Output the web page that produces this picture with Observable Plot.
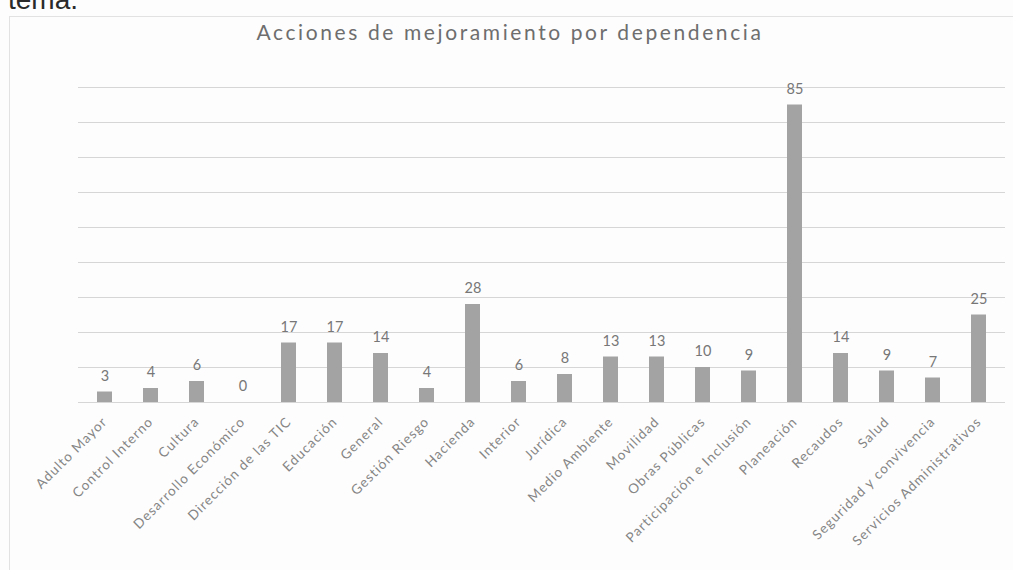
<!DOCTYPE html>
<html>
<head>
<meta charset="utf-8">
<script src="https://cdn.jsdelivr.net/npm/d3@7"></script>
<script src="https://cdn.jsdelivr.net/npm/@observablehq/plot@0.6"></script>
<style>
  html, body { margin: 0; padding: 0; background: #fff; }
  #wrap { position: relative; width: 1013px; height: 570px; overflow: hidden; background: #fdfdfd; }
  #tema { position: absolute; left: 8px; top: -16px; font: 28px "Liberation Sans", Arial, sans-serif; color: #2a2a2a; }
  #frame { position: absolute; left: 9px; top: 16px; width: 1010px; height: 560px; border: 1px solid #e2e2e2; box-sizing: border-box; }
  #title { position: absolute; left: 0; width: 1020px; top: 19px; text-align: center; font: 21px Lato, "Open Sans", sans-serif; letter-spacing: 2.6px; color: #6e6e6e; }
  #chart { position: absolute; left: 0; top: 0; }
  g[aria-label="x-axis tick label"] text { letter-spacing: 1.1px; }
</style>
</head>
<body>
<div id="wrap">
  <div id="tema">tema.</div>
  <div id="frame"></div>
  <div id="title">Acciones de mejoramiento por dependencia</div>
  <div id="chart"></div>
</div>
<script>
const categories = [
  "Adulto Mayor", "Control Interno", "Cultura", "Desarrollo Económico",
  "Dirección de las TIC", "Educación", "General", "Gestión Riesgo",
  "Hacienda", "Interior", "Jurídica", "Medio Ambiente", "Movilidad",
  "Obras Públicas", "Participación e Inclusión", "Planeación", "Recaudos",
  "Salud", "Seguridad y convivencia", "Servicios Administrativos"
];
const values = [3, 4, 6, 0, 17, 17, 14, 4, 28, 6, 8, 13, 13, 10, 9, 85, 14, 9, 7, 25];
const gridTicks = [0, 10, 20, 30, 40, 50, 60, 70, 80, 90];

const data = categories.map((c, i) => ({ cat: c, val: values[i] }));

const chart = Plot.plot({
  width: 1013,
  height: 570,
  marginLeft: 78,
  marginRight: 8,
  marginTop: 87,
  marginBottom: 168,
  style: { background: "transparent", fontFamily: "Lato, 'Open Sans', sans-serif" },
  x: { domain: categories, paddingInner: 0.68, paddingOuter: 0.38, label: null },
  y: { domain: [0, 90], axis: null },
  marks: [
    Plot.ruleY(gridTicks, { stroke: "#d6d6d6", strokeWidth: 1 }),
    Plot.barY(data, { x: "cat", y: "val", fill: "#a3a3a3" }),
    Plot.text(data, { x: "cat", y: "val", text: d => String(d.val), dy: -16, fill: "#777777", fontSize: 14.5, ariaLabel: "vals" }),
    Plot.axisX({ tickRotate: -45, tickSize: 0, tickPadding: 17, fontSize: 13.5, fill: "#858585", label: null })
  ]
});
document.getElementById("chart").appendChild(chart);
d3.select(chart).selectAll('g[aria-label="vals"] text').style("letter-spacing", "1px");
</script>
</body>
</html>
